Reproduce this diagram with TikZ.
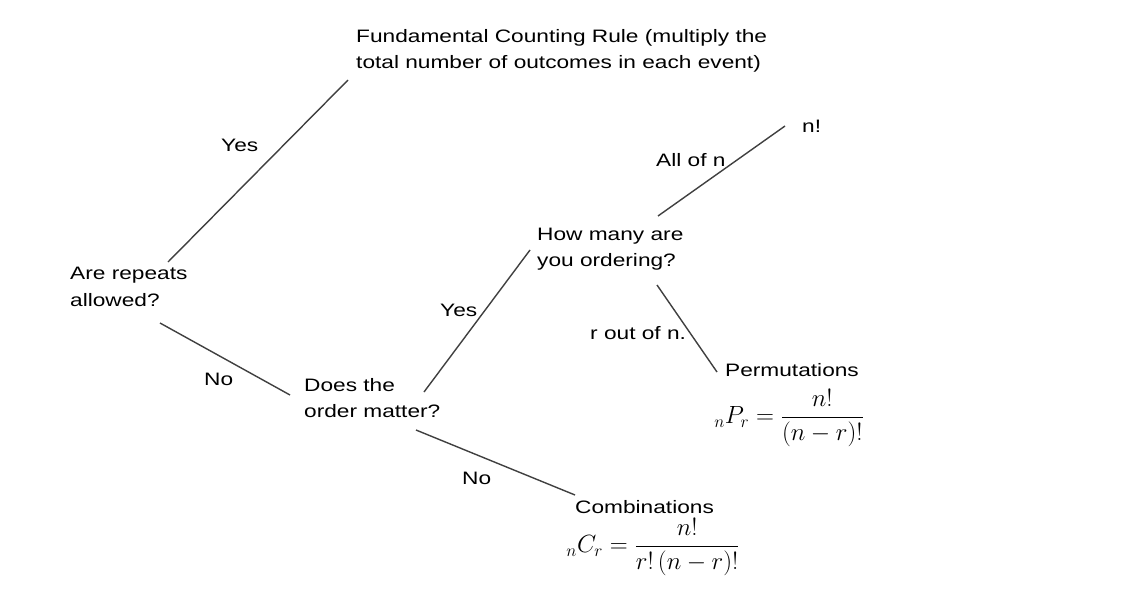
\documentclass[tikz,border=0pt]{standalone}
\usepackage{amsmath}
\usepackage{fontspec}
\setmainfont[FakeStretch=1.26]{Liberation Sans}
\begin{document}
\begin{tikzpicture}[x=1pt,y=-1pt,
  lbl/.style={anchor=west,inner sep=0pt,font=\fontsize{18}{26.5}\selectfont,text=black,align=left},
  conn/.style={draw=black!75,line width=1.4pt},
  frm/.style={inner sep=0pt,font=\fontsize{24}{28}\selectfont}]
\useasboundingbox[fill=white] (0,0) rectangle (1133,597);
% text nodes
\node[lbl] (fcr) at (356,51) {Fundamental Counting Rule (multiply the\\total number of outcomes in each event)};
\node[lbl] (rep) at (70,287) {Are repeats\\allowed?};
\node[lbl] (ord) at (304,398) {Does the\\order matter?};
\node[lbl] (how) at (537,249) {How many are\\you ordering?};
\node[lbl] (nfact) at (802,126) {n!};
\node[lbl] (perm) at (725,370) {Permutations};
\node[lbl] (comb) at (575,507) {Combinations};
\node[frm] (pf) at (789,418) {${}_{n}P_{r}=\dfrac{n!}{\left(n-r\right)!}$};
\node[frm] (cf) at (653,547) {${}_{n}C_{r}=\dfrac{n!}{r!\left(n-r\right)!}$};
% connector end points
\coordinate (a1) at (168,262); \coordinate (a2) at (348,80);
\coordinate (b1) at (160,323); \coordinate (b2) at (290,395);
\coordinate (c1) at (424,392); \coordinate (c2) at (530,250);
\coordinate (d1) at (416,430); \coordinate (d2) at (575,495);
\coordinate (e1) at (658,216); \coordinate (e2) at (785,126);
\coordinate (f1) at (657,285); \coordinate (f2) at (717,372);
\draw[conn] (a1) -- (a2);
\draw[conn] (b1) -- (b2);
\draw[conn] (c1) -- (c2);
\draw[conn] (d1) -- (d2);
\draw[conn] (e1) -- (e2);
\draw[conn] (f1) -- (f2);
% edge labels
\node[lbl] (y1) at (221,145) {Yes};
\node[lbl] (n1) at (204,379) {No};
\node[lbl] (y2) at (440,310) {Yes};
\node[lbl] (n2) at (462,478) {No};
\node[lbl] (alln) at (656,160) {All of n};
\node[lbl] (rout) at (590,333) {r out of n.};
\end{tikzpicture}
\end{document}
